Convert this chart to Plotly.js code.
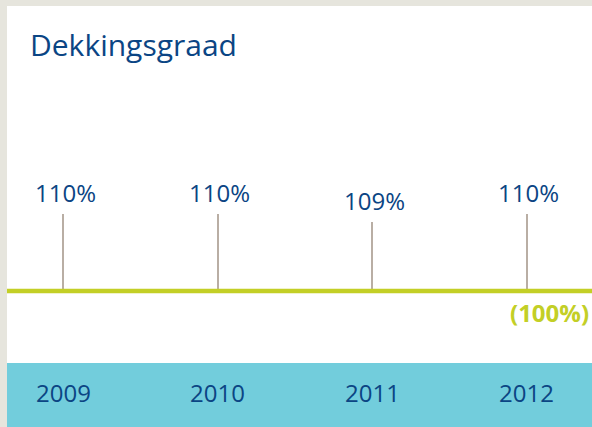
<!DOCTYPE html>
<html>
<head>
<meta charset="utf-8">
<script src="https://cdn.plot.ly/plotly-3.0.1.min.js"></script>
<style>html,body{margin:0;padding:0;background:#e6e5dd;}#chart{width:592px;height:427px;}</style>
</head>
<body>
<div id="chart"></div>
<script>
var years = ["2009", "2010", "2011", "2012"];
var coverage = [110, 110, 109, 110];
var valueLabels = ["110%", "110%", "109%", "110%"];
var baseline = 100;
var baselineLabel = "(100%)";
var titleText = "Dekkingsgraad";

var W = 592, H = 427;
function py(px) { return 1 - px / H; }
function pxr(px) { return px / W; }

var FONT = "Open Sans, Noto Sans, sans-serif";
var BLUE = "#0b4584";
var GREEN = "#c3cf26";
var CYAN = "#72cddc";
var STEM = "#b9aea4";

var stems = {
  type: "bar",
  x: years,
  y: coverage.map(function (v) { return v - baseline; }),
  base: baseline,
  width: 0.011,
  marker: { color: STEM, line: { width: 0 } },
  hoverinfo: "skip",
  showlegend: false
};

var annotations = [];
years.forEach(function (yr, i) {
  annotations.push({
    x: i, y: coverage[i], xref: "x", yref: "y",
    text: valueLabels[i], showarrow: false,
    xanchor: "center", yanchor: "bottom", yshift: 3, xshift: 2,
    font: { family: FONT, size: 24, color: BLUE }
  });
  annotations.push({
    x: i, y: py(392), xref: "x", yref: "paper",
    text: yr, showarrow: false,
    xanchor: "center", yanchor: "middle",
    font: { family: FONT, size: 24, color: BLUE }
  });
});
annotations.push({
  x: 1, xref: "paper", xanchor: "right", xshift: -1,
  y: py(312), yref: "paper", yanchor: "middle",
  text: "<b>" + baselineLabel + "</b>", showarrow: false,
  font: { family: FONT, size: 24, color: GREEN }
});
annotations.push({
  x: pxr(28), xref: "paper", xanchor: "left",
  y: py(44), yref: "paper", yanchor: "middle",
  text: titleText, showarrow: false,
  font: { family: FONT, size: 30, color: BLUE }
});

var layout = {
  width: W, height: H,
  margin: { l: 0, r: 0, t: 0, b: 0, pad: 0 },
  paper_bgcolor: "#e6e5dd",
  plot_bgcolor: "rgba(0,0,0,0)",
  showlegend: false,
  bargap: 0,
  xaxis: {
    type: "category", range: [-0.4073, 3.4203],
    showgrid: false, zeroline: false, showline: false,
    showticklabels: false, ticks: "", fixedrange: true
  },
  yaxis: {
    range: [82.34, 137.79],
    showgrid: false, zeroline: false, showline: false,
    showticklabels: false, ticks: "", fixedrange: true
  },
  shapes: [
    { type: "rect", xref: "paper", yref: "paper", x0: pxr(7), x1: 1, y0: py(363), y1: py(6),
      fillcolor: "#ffffff", line: { width: 0 }, layer: "below" },
    { type: "rect", xref: "paper", yref: "paper", x0: pxr(7), x1: 1, y0: 0, y1: py(363),
      fillcolor: CYAN, line: { width: 0 }, layer: "below" },
    { type: "line", xref: "paper", yref: "y", x0: pxr(7), x1: 1, y0: baseline, y1: baseline,
      line: { color: GREEN, width: 4.5 }, layer: "above" }
  ],
  annotations: annotations
};

Plotly.newPlot("chart", [stems], layout, { displayModeBar: false, staticPlot: true });
</script>
</body>
</html>
